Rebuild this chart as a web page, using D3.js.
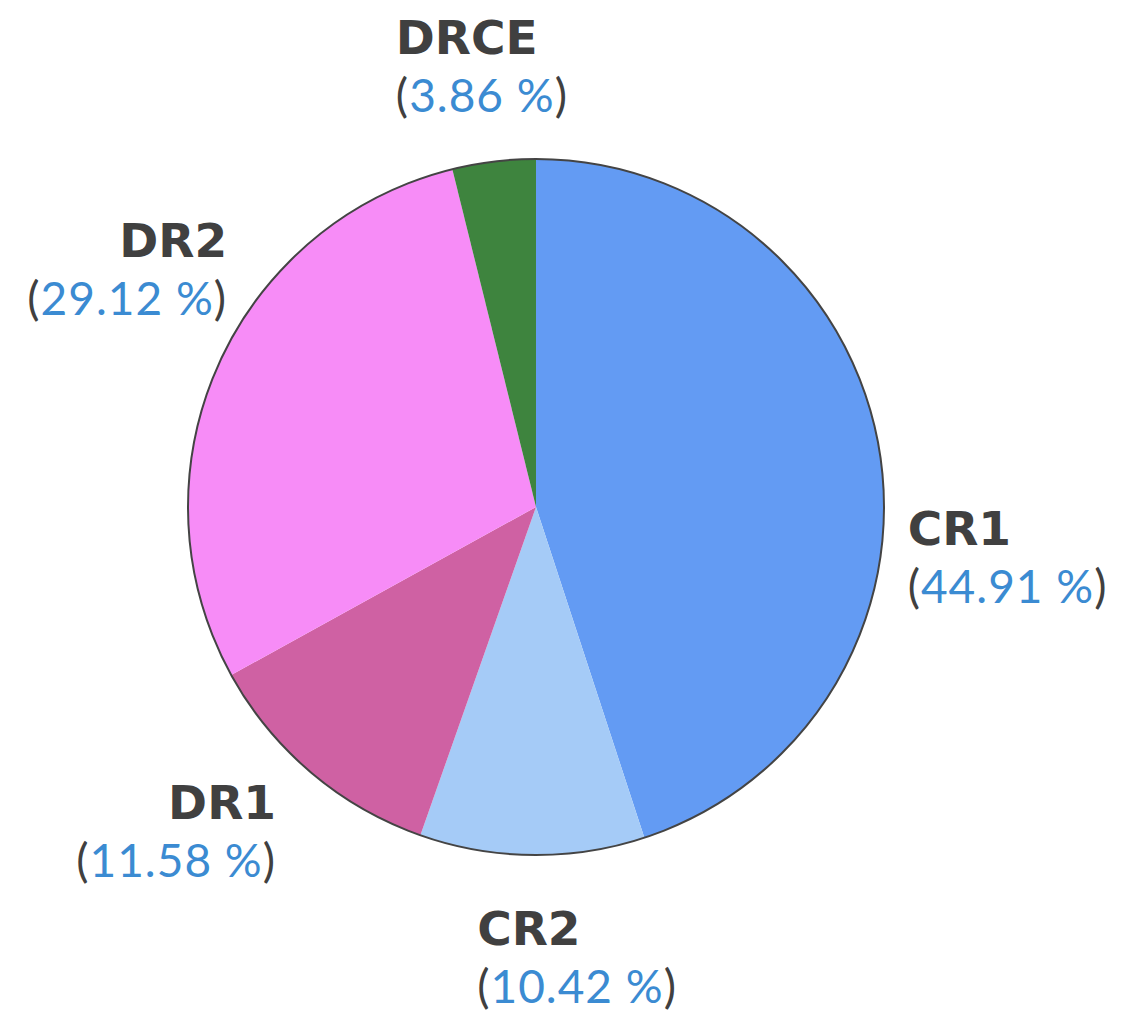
<!DOCTYPE html>
<html>
<head>
<meta charset="utf-8">
<script src="https://cdn.jsdelivr.net/npm/d3@7"></script>
<style>
  body { margin: 0; background: #fff; }
  text { font-family: Lato, "Open Sans", sans-serif; }
  .name { font-family: "DejaVu Sans", Lato, sans-serif; }
</style>
</head>
<body>
<div id="chart"></div>
<script>
// data
const categories = ["CR1", "CR2", "DR1", "DR2", "DRCE"];
const shares = [44.91, 10.42, 11.58, 29.12, 3.86];
const sliceColors = ["#639bf3", "#a5cbf7", "#cf61a3", "#f78cf7", "#3e843e"];

// label layout, offsets from the point on the rim at the slice's mid angle
const labelLayout = [
  {anchor: "start", dx: 28, dy: 93},
  {anchor: "start", dx: -55, dy: 90},
  {anchor: "end", dx: -35, dy: 46},
  {anchor: "end", dx: 10, dy: -111},
  {anchor: "start", dx: -98, dy: -108}
];

const width = 1132, height = 1019;
const cx = 536, cy = 507, radius = 348;

const svg = d3.select("#chart").append("svg")
  .attr("width", width)
  .attr("height", height);

const g = svg.append("g")
  .attr("transform", `translate(${cx},${cy})`);

const pie = d3.pie().sort(null).value(d => d);
const arcs = pie(shares);
const arc = d3.arc().innerRadius(0).outerRadius(radius);

g.selectAll("path.slice")
  .data(arcs)
  .join("path")
  .attr("class", "slice")
  .attr("d", arc)
  .attr("fill", (d, i) => sliceColors[i]);

// outline around the pie only
g.append("circle")
  .attr("r", radius)
  .attr("fill", "none")
  .attr("stroke", "#444")
  .attr("stroke-width", 2);

const labels = g.selectAll("g.label")
  .data(arcs)
  .join("g")
  .attr("class", "label")
  .attr("transform", (d, i) => {
    const a = (d.startAngle + d.endAngle) / 2;
    const x = radius * Math.sin(a) + labelLayout[i].dx;
    const y = -radius * Math.cos(a) + labelLayout[i].dy;
    return `translate(${x},${y})`;
  });

labels.append("text")
  .attr("class", "name")
  .attr("text-anchor", (d, i) => labelLayout[i].anchor)
  .attr("font-size", 47)
  .attr("font-weight", "bold")
  .attr("fill", "#404040")
  .text((d, i) => categories[i]);

const val = labels.append("text")
  .attr("text-anchor", (d, i) => labelLayout[i].anchor)
  .attr("y", 58)
  .attr("font-size", 46)
  .attr("letter-spacing", 1)
  .attr("fill", "#404040");

val.append("tspan").text("(");
val.append("tspan").attr("fill", "#3b8bd2").text(d => d.data.toFixed(2) + " %");
val.append("tspan").text(")");
</script>
</body>
</html>
